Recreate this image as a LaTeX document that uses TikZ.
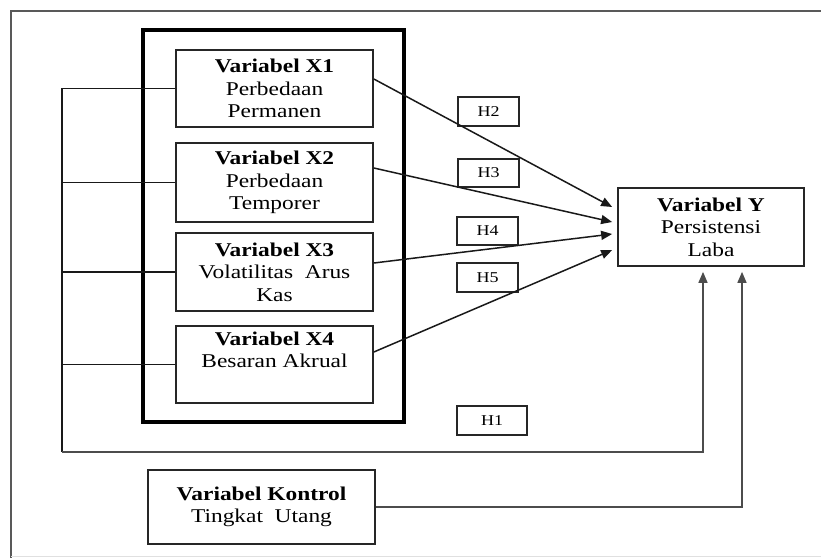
\documentclass[tikz,border=0pt]{standalone}
\usepackage{fontspec}
\setmainfont{Liberation Serif}[FakeStretch=1.2]
\usetikzlibrary{arrows.meta,calc}

\tikzset{
  varbox/.style={draw=black!85, line width=1.7pt, inner sep=0pt, align=center,
    font=\fontsize{19.5}{22.5}\selectfont},
  hbox/.style={draw=black!85, line width=1.5pt, inner sep=0pt,
    font=\fontsize{15}{16}\selectfont},
  groupbox/.style={draw=black, line width=3.2pt},
  link/.style={line width=1.5pt, draw=black!90},
  arr/.style={link, -{Triangle[length=11pt,width=9pt]}},
  frame/.style={line width=1.7pt, draw=black!65}
}

\begin{document}
\begin{tikzpicture}[x=1pt,y=-1pt]
  \useasboundingbox (0,0) rectangle (821,558);

  % page frame
  \draw[frame] (11,558) -- (11,11) -- (821,11);
  \draw[line width=1pt, draw=black!12] (11,556.5) -- (821,556.5);

  % group of independent variables
  \node[groupbox, minimum width=261pt, minimum height=392pt] (grp) at (273.5,226) {};

  \node[varbox, minimum width=197pt, minimum height=77pt] (x1) at (274.5,88.5)
    {\textbf{Variabel X1}\\Perbedaan\\Permanen};
  \node[varbox, minimum width=197pt, minimum height=79pt] (x2) at (274.5,182.5)
    {\textbf{Variabel X2}\\Perbedaan\\Temporer};
  \node[varbox, minimum width=197pt, minimum height=78pt] (x3) at (274.5,272)
    {\textbf{Variabel X3}\\Volatilitas\ \ Arus\\Kas};
  \node[varbox, minimum width=197pt, minimum height=77pt] (x4) at (274.5,364.5)
    {\textbf{Variabel X4}\\Besaran\ Akrual\\\strut};

  \node[varbox, minimum width=186pt, minimum height=78pt] (y) at (711,227)
    {\textbf{Variabel Y}\\Persistensi\\Laba};

  \node[varbox, minimum width=227pt, minimum height=74pt] (k) at (261.5,507)
    {\textbf{Variabel\ Kontrol}\\Tingkat\ \ Utang};

  % hypothesis labels
  \node[hbox, minimum width=61pt, minimum height=29pt] (h2) at (488.5,111.5) {H2};
  \node[hbox, minimum width=61pt, minimum height=28pt] (h3) at (488.5,173) {H3};
  \node[hbox, minimum width=61pt, minimum height=28pt] (h4) at (487.5,231) {H4};
  \node[hbox, minimum width=61pt, minimum height=29pt] (h5) at (487.5,277.5) {H5};
  \node[hbox, minimum width=70pt, minimum height=29pt] (h1) at (492,420.5) {H1};

  % arrow ends next to the dependent variable
  \coordinate (t1) at ($(y.west)+(-5,-20)$);
  \coordinate (t2) at ($(y.west)+(-5,-5)$);
  \coordinate (t3) at ($(y.west)+(-5,7)$);
  \coordinate (t4) at ($(y.west)+(-5,23)$);

  % partial effects X1..X4 -> Y
  \draw[arr] ($(x1.east)+(0,-9.5)$) -- (t1);
  \draw[arr] ($(x2.east)+(0,-14.5)$) -- (t2);
  \draw[arr] ($(x3.east)+(0,-9)$) -- (t3);
  \draw[arr] ($(x4.east)+(0,-12.5)$) -- (t4);

  % simultaneous effect bus -> Y
  \coordinate (bus) at (62,452);
  \draw[link] (x1.west) -- (x1.west -| bus) -- (bus);
  \draw[link] (x2.west) -- (x2.west -| bus);
  \draw[link] (x3.west) -- (x3.west -| bus);
  \draw[link] (x4.west) -- (x4.west -| bus);
  \draw[arr, draw=black!70, shorten >=5pt] (bus) -| ($(y.south)+(-8,0)$);

  % control variable -> Y
  \draw[arr, draw=black!70, shorten >=5pt] (k.east) -| ($(y.south)+(31,0)$);
\end{tikzpicture}
\end{document}
